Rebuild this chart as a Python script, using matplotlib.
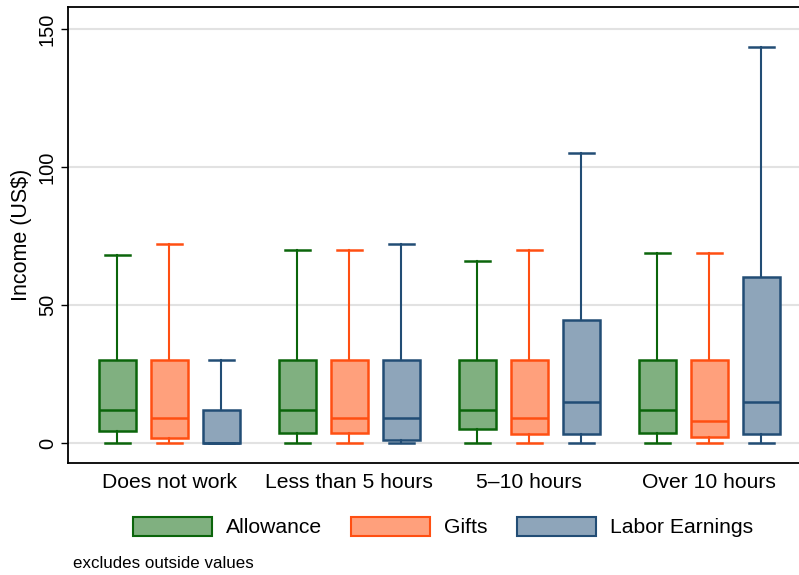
import matplotlib
matplotlib.use("Agg")
import matplotlib.pyplot as plt
from matplotlib.patches import Patch

plt.rcParams['font.family'] = ['Liberation Sans', 'DejaVu Sans']

groups = ["Does not work", "Less than 5 hours", "5\u201310 hours", "Over 10 hours"]
series = ["Allowance", "Gifts", "Labor Earnings"]

# five-number summaries per series, one value per work group
lo_whisk = {
    "Allowance": [0, 0, 0, 0],
    "Gifts": [0, 0, 0, 0],
    "Labor Earnings": [0, 0, 0, 0],
}
q1 = {
    "Allowance": [4.5, 3.5, 5, 3.5],
    "Gifts": [1.8, 3.5, 3.2, 2],
    "Labor Earnings": [0, 1, 3.2, 3.2],
}
med = {
    "Allowance": [12, 12, 12, 12],
    "Gifts": [9, 9, 9, 8],
    "Labor Earnings": [0, 9, 15, 15],
}
q3 = {
    "Allowance": [30, 30, 30, 30],
    "Gifts": [30, 30, 30, 30],
    "Labor Earnings": [12, 30, 44.5, 60],
}
hi_whisk = {
    "Allowance": [68, 70, 66, 69],
    "Gifts": [72, 70, 70, 69],
    "Labor Earnings": [30, 72, 105, 143.5],
}

face = {"Allowance": "#80b080", "Gifts": "#ffa07c", "Labor Earnings": "#8ea5ba"}
edge = {"Allowance": "#0b650b", "Gifts": "#ff4f12", "Labor Earnings": "#224d75"}

fig = plt.figure(figsize=(7.99, 5.75), dpi=100)
ax = fig.add_axes([68 / 799, 1 - 463 / 575, 1 - 68 / 799, (463 - 7) / 575])

offset = 52 / 180
for k, name in enumerate(series):
    stats = []
    for g in range(len(groups)):
        stats.append({
            "whislo": lo_whisk[name][g], "q1": q1[name][g], "med": med[name][g],
            "q3": q3[name][g], "whishi": hi_whisk[name][g], "fliers": [],
        })
    pos = [g + (k - 1) * offset for g in range(len(groups))]
    c = edge[name]
    ax.bxp(stats, positions=pos, widths=37 / 180, patch_artist=True,
           showfliers=False, capwidths=25 / 180,
           boxprops=dict(facecolor=face[name], edgecolor=c, linewidth=1.8),
           medianprops=dict(color=c, linewidth=1.8),
           whiskerprops=dict(color=c, linewidth=1.5),
           capprops=dict(color=c, linewidth=1.8))

ax.set_xlim(-101 / 180, 3 + 90 / 180)
ax.set_ylim(-20 / 2.76, 150 + 22 / 2.76)
ax.set_yticks([0, 50, 100, 150])
ax.set_yticklabels(["0", "50", "100", "150"], rotation=90, va="center", fontsize=14.4)
ax.set_xticks(range(len(groups)))
ax.set_xticklabels(groups, fontsize=15.2)
ax.tick_params(axis="x", length=0, pad=7)
ax.tick_params(axis="y", length=5, width=1, pad=3)
ax.set_ylabel("Income (US$)", fontsize=15.5, labelpad=4)
ax.yaxis.grid(True, color="#e2e2e2", linewidth=1.5)
ax.set_axisbelow(True)
ax.spines["right"].set_visible(False)
for s in ["left", "bottom", "top"]:
    ax.spines[s].set_linewidth(1.3)

handles = [Patch(facecolor=face[n], edgecolor=edge[n], linewidth=1.5, label=n) for n in series]
fig.legend(handles=handles, loc="center", bbox_to_anchor=(443 / 799, 1 - 527 / 575),
           ncol=3, frameon=False, fontsize=15.2, handlelength=3.75, handleheight=1.0,
           handletextpad=0.66, columnspacing=1.37)

fig.text(73 / 799, 1 - 564 / 575, "excludes outside values", fontsize=12.2, va="center")

fig.savefig("out.png", dpi=100)
